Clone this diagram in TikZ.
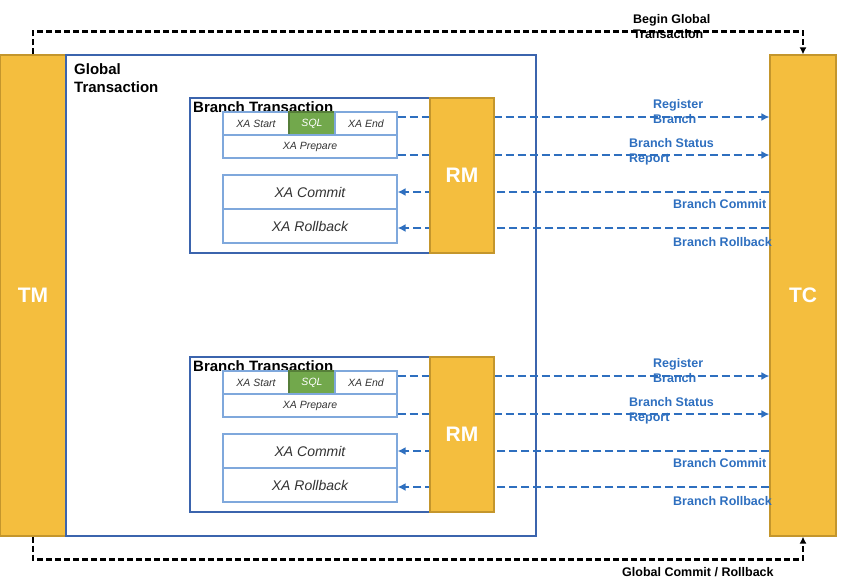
\documentclass[tikz,border=0pt]{standalone}
\usepackage{fontspec}
\setmainfont{Liberation Sans}
\usetikzlibrary{arrows.meta}
\definecolor{tmyellow}{HTML}{F4BE3E}
\definecolor{tmborder}{HTML}{C4962C}
\definecolor{gtblue}{HTML}{3B64AD}
\definecolor{xablue}{HTML}{7FA8DC}
\definecolor{flowblue}{HTML}{2E6FBF}
\definecolor{sqlgreen}{HTML}{72A84C}
\begin{document}
\begin{tikzpicture}[x=1pt,y=-1pt,
  actor/.style={rectangle,draw=tmborder,fill=tmyellow,line width=1.2pt,minimum width=66pt,minimum height=481pt,inner sep=0pt,text=white,font=\fontsize{21}{24}\selectfont\bfseries},
  rm/.style={actor,minimum width=64pt,minimum height=155pt},
  frame/.style={rectangle,draw=gtblue,line width=1.1pt,inner sep=0pt},
  xa/.style={rectangle,draw=xablue,fill=white,line width=1.2pt,inner sep=0pt,minimum height=23pt,text=black!80,font=\fontsize{10.5}{12}\selectfont\itshape},
  xabig/.style={xa,minimum width=174pt,minimum height=34pt,font=\fontsize{14}{16}\selectfont\itshape},
  title/.style={anchor=north west,align=left,inner sep=0pt,font=\fontsize{15}{18}\selectfont\bfseries},
  flow/.style={draw=flowblue,line width=2.2pt,dash pattern=on 8pt off 4pt,-{Latex[length=8pt,width=8pt]}},
  flowlabel/.style={anchor=north west,align=left,inner sep=0pt,text=flowblue,font=\fontsize{12.5}{15}\selectfont\bfseries},
  ctrl/.style={draw=black,line width=2.4pt,dash pattern=on 6pt off 3pt,-{Latex[length=7pt,width=7pt]}},
  ctrllabel/.style={flowlabel,text=black}]

  \useasboundingbox (0,0) rectangle (841,586);

  \node[actor] (tm) at (33,295.5) {TM};
  \node[actor] (tc) at (803,295.5) {TC};

  \node[frame,minimum width=470pt,minimum height=481pt] (gt) at (301,295.5) {};
  \node[title] (gtlabel) at (74,63) {Global\\Transaction};

  \node[frame,minimum width=304pt,minimum height=155pt] (bt1) at (342,175.5) {};
  \node[title] (bttitle1) at (193,101.5) {Branch Transaction};
  \node[xa,minimum width=66pt] (xastart1) at (256,123.5) {XA Start};
  \node[xa,fill=sqlgreen,draw=sqlgreen!75!black,text=white,minimum width=46pt] (sql1) at (312,123.5) {SQL};
  \node[xa,minimum width=62pt] (xaend1) at (366,123.5) {XA End};
  \node[xa,minimum width=174pt] (xaprep1) at (310,146.5) {XA Prepare};
  \node[xabig] (xacommit1) at (310,192) {XA Commit};
  \node[xabig] (xarollback1) at (310,226) {XA Rollback};

  \node[frame,minimum width=304pt,minimum height=155pt] (bt2) at (342,434.5) {};
  \node[title] (bttitle2) at (193,360.5) {Branch Transaction};
  \node[xa,minimum width=66pt] (xastart2) at (256,382.5) {XA Start};
  \node[xa,fill=sqlgreen,draw=sqlgreen!75!black,text=white,minimum width=46pt] (sql2) at (312,382.5) {SQL};
  \node[xa,minimum width=62pt] (xaend2) at (366,382.5) {XA End};
  \node[xa,minimum width=174pt] (xaprep2) at (310,405.5) {XA Prepare};
  \node[xabig] (xacommit2) at (310,451) {XA Commit};
  \node[xabig] (xarollback2) at (310,485) {XA Rollback};

  \draw[flow] ([yshift=6.5pt]xaend1.east) coordinate (reg1) -- (reg1 -| tc.west);
  \draw[flow] ([yshift=-8.5pt]xaprep1.east) coordinate (rep1) -- (rep1 -| tc.west);
  \draw[flow] (tc.west |- xacommit1.east) -- (xacommit1.east);
  \path ([yshift=-2pt]xarollback1.east) coordinate (rb1);
  \draw[flow] (rb1 -| tc.west) -- (rb1);

  \draw[flow] ([yshift=6.5pt]xaend2.east) coordinate (reg2) -- (reg2 -| tc.west);
  \draw[flow] ([yshift=-8.5pt]xaprep2.east) coordinate (rep2) -- (rep2 -| tc.west);
  \draw[flow] (tc.west |- xacommit2.east) -- (xacommit2.east);
  \path ([yshift=-2pt]xarollback2.east) coordinate (rb2);
  \draw[flow] (rb2 -| tc.west) -- (rb2);

  \node[rm] (rm1) at (462,175.5) {RM};
  \node[rm] (rm2) at (462,434.5) {RM};

  \node[flowlabel] (lreg1) at (653,99) {Register\\Branch};
  \node[flowlabel] (lrep1) at (629,138) {Branch Status\\Report};
  \node[flowlabel] (lcom1) at (673,199) {Branch Commit};
  \node[flowlabel] (lrb1) at (673,237) {Branch Rollback};

  \node[flowlabel] (lreg2) at (653,358) {Register\\Branch};
  \node[flowlabel] (lrep2) at (629,397) {Branch Status\\Report};
  \node[flowlabel] (lcom2) at (673,458) {Branch Commit};
  \node[flowlabel] (lrb2) at (673,496) {Branch Rollback};

  \draw[ctrl] (tm.north) -- ++(0,-23) -| (tc.north);
  \draw[ctrl] (tm.south) -- ++(0,23) -| (tc.south);
  \node[ctrllabel] (lbegin) at (633,14) {Begin Global\\Transaction};
  \node[ctrllabel] (lend) at (622,567) {Global Commit / Rollback};
\end{tikzpicture}
\end{document}
